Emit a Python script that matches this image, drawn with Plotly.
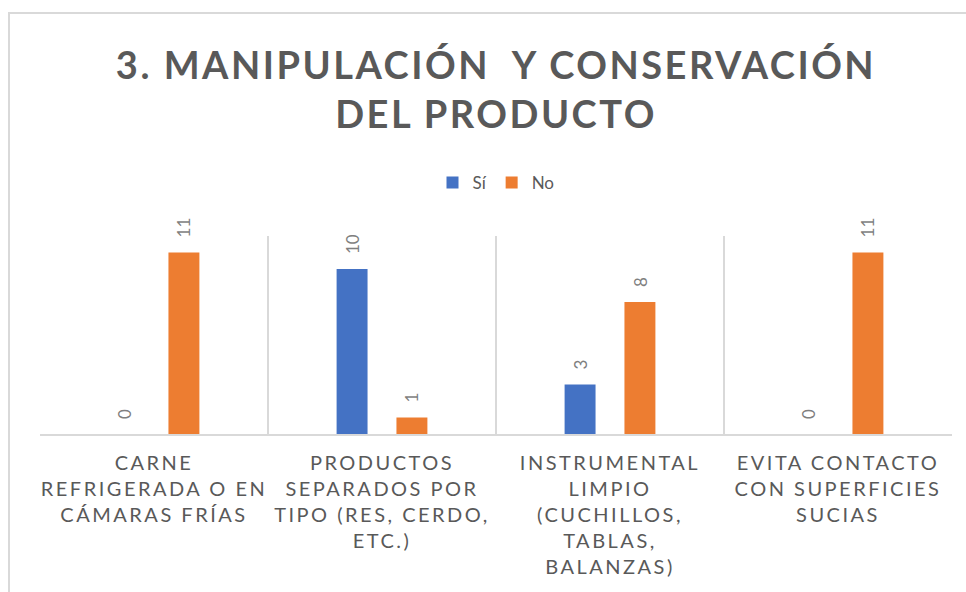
import plotly.graph_objects as go

categories = [
    "CARNE<br>REFRIGERADA O EN<br>CÁMARAS FRÍAS",
    "PRODUCTOS<br>SEPARADOS POR<br>TIPO (RES, CERDO,<br>ETC.)",
    "INSTRUMENTAL<br>LIMPIO<br>(CUCHILLOS,<br>TABLAS,<br>BALANZAS)",
    "EVITA CONTACTO<br>CON SUPERFICIES<br>SUCIAS",
]
series_names = ["Sí", "No"]
si_values = [0, 10, 3, 0]
no_values = [11, 1, 8, 11]
title_text = "3. MANIPULACIÓN  Y CONSERVACIÓN<br>DEL PRODUCTO"

colors = ["#4472C4", "#ED7D31"]
W, H = 966, 592
ML, MR, MT, MB = 40, 14, 236, 158
BARGAP = 0.475
BARGROUPGAP = 0.483
FONT = "Lato, Open Sans, sans-serif"

fig = go.Figure()
for name, vals, col in zip(series_names, [si_values, no_values], colors):
    fig.add_trace(go.Bar(name=name, x=categories, y=vals, marker_color=col,
                         marker_line_width=0))

plot_w = W - ML - MR
slot = plot_w / len(categories) * (1 - BARGAP) / 2
annotations = []
for i, vals in enumerate([si_values, no_values]):
    for c, v in zip(categories, vals):
        annotations.append(dict(
            x=c, y=v, text=str(v), showarrow=False, textangle=-90,
            xanchor="center", yanchor="bottom", xshift=(i - 0.5) * slot, yshift=13,
            font=dict(family=FONT, size=17, color="#7f7f7f"),
        ))

py_plot = H - MT - MB
shapes = [dict(type="rect", xref="paper", yref="paper",
               x0=(9 - ML) / plot_w, x1=1.2,
               y0=-2.0, y1=1 + (MT - 13) / py_plot,
               line=dict(color="#d9d9d9", width=2), fillcolor="rgba(0,0,0,0)", layer="below")]

fig.update_layout(
    width=W, height=H,
    margin=dict(l=ML, r=MR, t=MT, b=MB),
    paper_bgcolor="white", plot_bgcolor="white",
    barmode="group", bargap=BARGAP, bargroupgap=BARGROUPGAP,
    title=dict(text=title_text, x=0.5, xanchor="center", xref="paper",
               y=1 - 79 / H, yanchor="top", yref="container",
               font=dict(family=FONT, size=38, color="#595959", weight="bold")),
    legend=dict(orientation="h", x=0.5, xanchor="center", y=1 + (MT - 183) / py_plot, yanchor="middle",
                font=dict(family=FONT, size=17, color="#595959"),
                itemwidth=30, traceorder="normal"),
    xaxis=dict(showgrid=True, gridcolor="#d9d9d9", gridwidth=2, tickson="boundaries",
               ticks="", showline=True, linecolor="#d9d9d9", linewidth=2,
               tickfont=dict(family=FONT, size=20, color="#595959"),
               ticklabelstandoff=10, tickangle=0, automargin=False),
    yaxis=dict(range=[0, 12], showgrid=False, showticklabels=False, zeroline=False,
               showline=False, automargin=False),
    annotations=annotations,
    shapes=shapes,
)

post = """
document.body.style.margin = '0';
var gd = document.getElementById('{plot_id}');
function sp(){
  gd.querySelectorAll('.xtick text').forEach(function(t){t.style.letterSpacing='2.5px';});
  gd.querySelectorAll('.gtitle').forEach(function(t){t.style.letterSpacing='2.5px';});
}
sp();
gd.on('plotly_afterplot', sp);
"""
fig.write_html("out.html", post_script=post, config={"displayModeBar": False})
